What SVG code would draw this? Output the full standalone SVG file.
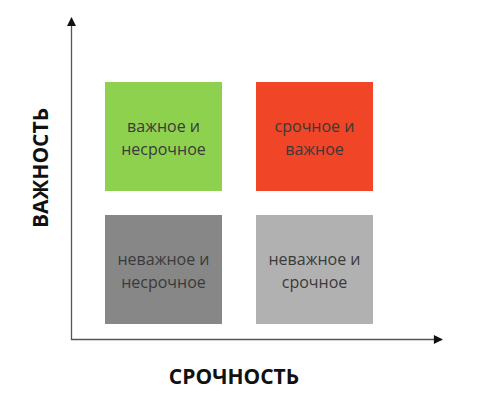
<svg xmlns="http://www.w3.org/2000/svg" width="499" height="405" viewBox="0 0 499 405">
<style>
.lbl{font-family:"Open Sans","Liberation Sans",sans-serif;font-size:16px;fill:#3a3a3a;text-anchor:middle}
.ax{font-family:"Open Sans","Liberation Sans",sans-serif;font-size:21px;font-weight:bold;fill:#111;text-anchor:middle}
.axis{stroke:#555;stroke-width:1.3;fill:none}
</style>
<defs>
<marker id="ah" viewBox="0 0 10 10" refX="9" refY="5" markerWidth="10" markerHeight="9" markerUnits="userSpaceOnUse" orient="auto">
<path d="M0,0 L10,5 L0,10 z" fill="#111"/>
</marker>
</defs>
<rect width="499" height="405" fill="#fff"/>
<g id="connectors">
<line class="axis" x1="71.5" y1="340" x2="71.5" y2="18" marker-end="url(#ah)"/>
<line class="axis" x1="71" y1="339.5" x2="442" y2="339.5" marker-end="url(#ah)"/>
</g>
<g id="q1">
<rect x="105" y="82" width="117" height="109" fill="#8ed14f"/>
<text class="lbl" x="163.5" y="132">важное и</text>
<text class="lbl" x="163.5" y="155">несрочное</text>
</g>
<g id="q2">
<rect x="256" y="82" width="117" height="109" fill="#f04526"/>
<text class="lbl" x="314.5" y="132">срочное и</text>
<text class="lbl" x="314.5" y="155">важное</text>
</g>
<g id="q3">
<rect x="105" y="215" width="117" height="109" fill="#878787"/>
<text class="lbl" x="163.5" y="265">неважное и</text>
<text class="lbl" x="163.5" y="288">несрочное</text>
</g>
<g id="q4">
<rect x="256" y="215" width="117" height="109" fill="#b1b1b1"/>
<text class="lbl" x="314.5" y="265">неважное и</text>
<text class="lbl" x="314.5" y="288">срочное</text>
</g>
<g id="yaxis-label">
<text class="ax" transform="translate(47.5,168) rotate(-90)">ВАЖНОСТЬ</text>
</g>
<g id="xaxis-label">
<text class="ax" x="234" y="383.5">СРОЧНОСТЬ</text>
</g>
</svg>
